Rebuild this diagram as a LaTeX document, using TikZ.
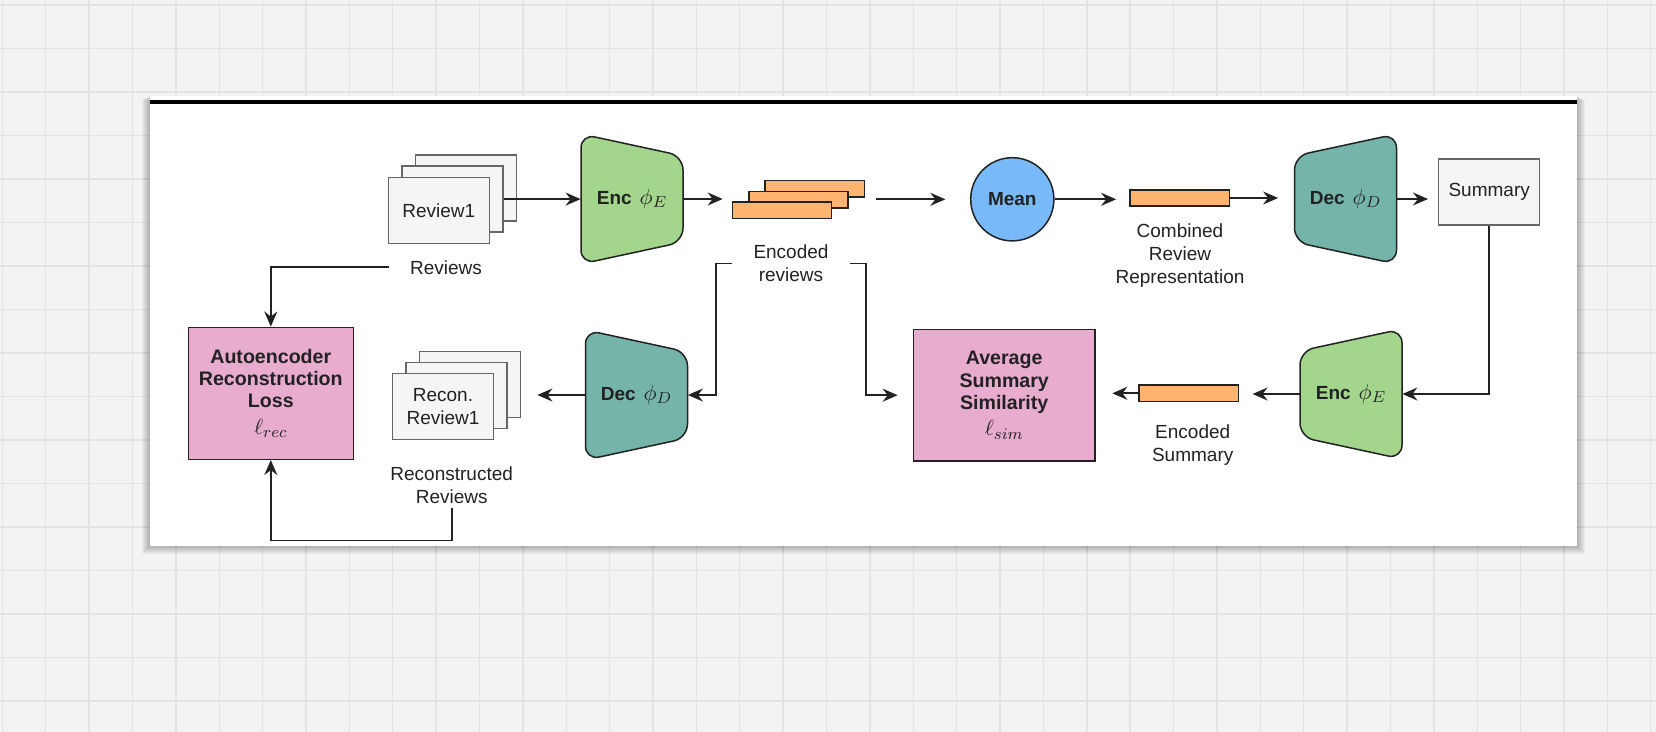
\documentclass[tikz,border=0pt]{standalone}
\usepackage{fontspec}
\setmainfont{Liberation Sans}
\usetikzlibrary{arrows.meta, positioning, calc}
\definecolor{PaperBg}{RGB}{243,243,241}
\definecolor{PaperGrid}{RGB}{227,227,225}
\definecolor{EncGreen}{RGB}{163,213,140}
\definecolor{DecTeal}{RGB}{117,180,168}
\definecolor{VecOrange}{RGB}{255,181,112}
\definecolor{MeanBlue}{RGB}{120,185,250}
\definecolor{LossPink}{RGB}{232,172,206}
\definecolor{DocGray}{RGB}{245,245,245}
\definecolor{Ink}{RGB}{34,34,34}
\newcommand\mth[1]{{\fontsize{11.2}{12}\selectfont$#1$}}

\tikzset{
  doc/.style={draw=black!60, fill=DocGray, line width=0.7pt, minimum width=50.5pt,
    minimum height=33pt, inner sep=0pt, align=center},
  vec/.style={draw=Ink, fill=VecOrange, line width=0.75pt, minimum width=49.6pt,
    minimum height=8.2pt, inner sep=0pt},
  coder/.style={draw=Ink, line width=0.75pt, rounded corners=7pt},
  coderlbl/.style={minimum width=51pt, minimum height=62pt, inner sep=0pt,
    font=\bfseries\fontsize{9.5}{11}\selectfont},
  loss/.style={draw=Ink, fill=LossPink, line width=0.75pt, inner sep=0pt, align=center,
    font=\bfseries\fontsize{9.8}{11.2}\selectfont},
  lbl/.style={align=center, inner xsep=10.5pt, inner ysep=2pt},
  flow/.style={draw=Ink, line width=0.8pt, -{Stealth[length=7.5pt, width=6.5pt, inset=2.5pt]}},
}

\begin{document}
\begin{tikzpicture}[x=0.5pt, y=-0.5pt, font=\fontsize{9.5}{11.5}\selectfont, text=Ink]
\useasboundingbox (0,0) rectangle (1656,732);

% papel cuadriculado
\fill[PaperBg] (0,0) rectangle (1656,732);
\foreach \i in {0,...,38}{
    \draw[PaperGrid, line width=0.7pt] ({2.3+43.38*\i},0) -- ({2.3+43.38*\i},732);
}
\foreach \j in {0,...,16}{
    \draw[PaperGrid, line width=0.7pt] (0,{5+43.5*\j}) -- (1656,{5+43.5*\j});
}

% tarjeta con sombra
\foreach \k in {1,...,8}
    \fill[black, opacity=0.035] ({150-\k},{96+0.5*\k}) rectangle ({1577+\k},{546+\k});
\fill[white] (150,96) rectangle (1577,546);
\draw[black, line width=1.6pt] (150,102) -- (1577,102);

% enc / dec: cx/cy/lado ancho/color
\foreach \cx/\cy/\w/\c in {632/199/-1/EncGreen, 1345.5/199/1/DecTeal,
    636.5/395/-1/DecTeal, 1351/394/1/EncGreen}{
    \draw[coder, fill=\c] ({\cx-51},{\cy-54+11*(\w)}) -- ({\cx+51},{\cy-54-11*(\w)})
        -- ({\cx+51},{\cy+54+11*(\w)}) -- ({\cx-51},{\cy+54-11*(\w)}) -- cycle;
}
\node[coderlbl] (enc1) at (632,199) {Enc\hspace{4pt}\mth{\phi_E}};
\node[coderlbl] (dec1) at (1345.5,199) {Dec\hspace{4pt}\mth{\phi_D}};
\node[coderlbl] (dec2) at (636.5,395) {Dec\hspace{4pt}\mth{\phi_D}};
\node[coderlbl] (enc2) at (1351,394) {Enc\hspace{4pt}\mth{\phi_E}};

% reviews
\foreach \k/\nm in {2/back,1/mid}
    \node[doc] (rev\nm) at ({438.8+13.6*\k},{210.3-11.2*\k}) {};
\node[doc] (review) at (438.8,210.3) {Review1};
\node[lbl] (reviewslbl) at (446,267.3) {Reviews};

% encoded reviews
\foreach \k/\nm in {2/back,1/mid}
    \node[vec] (encv\nm) at ({782+16.4*\k},{210.3-10.7*\k}) {};
\node[vec] (encv) at (782,210.3) {};
\node[lbl] (enclbl) at (791,263.5) {Encoded\\reviews};

\node[circle, draw=Ink, fill=MeanBlue, line width=0.75pt, minimum size=41.6pt, inner sep=0pt,
    font=\bfseries\fontsize{9.5}{11}\selectfont] (mean) at (1012.3,199.3) {Mean};

\node[vec] (comb) at (1179.7,198) {};
\node[lbl] (comblbl) at (1180,255.5) {Combined\\Review\\Representation};

\node[doc] (summary) at (1489.2,192.2) {Summary};

\node[vec] (encs) at (1188.8,393.3) {};
\node[lbl] (encslbl) at (1192.7,444.7) {Encoded\\Summary};

\node[loss, minimum width=90.8pt, minimum height=65.8pt] (sim) at (1004.2,395.2)
    {Average\\Summary\\Similarity\\[2pt]\mth{\ell_{sim}}};
\node[loss, minimum width=82.5pt, minimum height=66pt] (loss) at (270.8,393.3)
    {Autoencoder\\Reconstruction\\Loss\\[2pt]\mth{\ell_{rec}}};

% reconstructed reviews
\foreach \k/\nm in {2/back,1/mid}
    \node[doc] (rec\nm) at ({443+13.4*\k},{406.3-11*\k}) {};
\node[doc] (recon) at (443,406.3) {Recon.\\Review1};
\node[lbl] (reclbl) at (451.7,485.3) {Reconstructed\\Reviews};

% flechas
\draw[flow] (revmid.east) -- (revmid.east -| enc1.west);
\draw[flow, shorten >=4.5pt] (enc1.east) -- (enc1.east -| encv.west);
\draw[flow, shorten <=5.3pt, shorten >=12.3pt] (encvback.east |- mean.west) -- (mean.west);
\draw[flow, shorten >=6.6pt] (mean.east) -- (mean.east -| comb.west);
\draw[flow, shorten >=8pt] (comb.east) -- (comb.east -| dec1.west);
\draw[flow, shorten >=5pt] (dec1.east) -- (dec1.east -| summary.west);
\draw[flow] (summary.south) |- (enc2.east);
\draw[flow, shorten >=6.7pt] (enc2.west) -- (enc2.west -| encs.east);
\draw[flow, shorten >=8.3pt] (encs.west) -- (encs.west -| sim.east);
\draw[flow] (reviewslbl.west) -| (loss.north);
\draw[flow] (enclbl.west) -- ++(-16,0) |- (dec2.east);
\draw[flow, shorten >=7.5pt] (enclbl.east) -- ++(16,0) |- (sim.west);
\draw[flow, shorten >=8.2pt] (dec2.west) -- (dec2.west -| recback.east);
\draw[flow] (reclbl.south) -- ++(0,32.4) -| (loss.south);

\end{tikzpicture}
\end{document}
